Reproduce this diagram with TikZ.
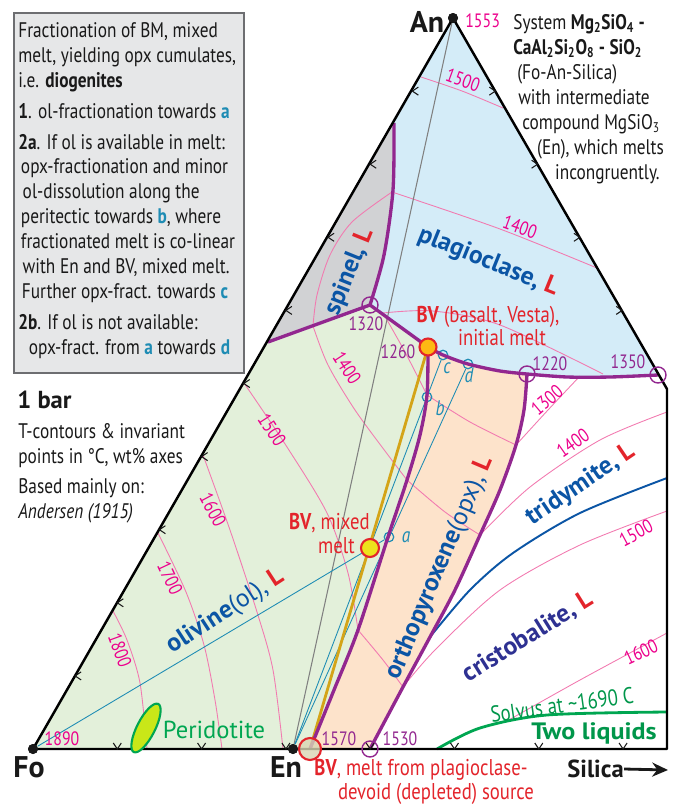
\documentclass[tikz,border=0pt]{standalone}
\usepackage{fontspec}
\setmainfont{PT Sans}[FakeStretch=0.82]
\newfontfamily\widesans{PT Sans}
\newfontfamily\extsans{PT Sans}[FakeStretch=1.1]
\usetikzlibrary{arrows.meta,shapes.geometric}
\definecolor{cpurple}{HTML}{92278F}
\definecolor{cpink}{HTML}{F27AB0}
\definecolor{cmag}{HTML}{EC008C}
\definecolor{cteal}{HTML}{1E8CB4}
\definecolor{cblue}{HTML}{0B55A5}
\definecolor{cnavy}{HTML}{2E3192}
\definecolor{cred}{HTML}{E3242B}
\definecolor{cgreen}{HTML}{00A651}
\definecolor{cdgreen}{HTML}{00964A}
\definecolor{cgold}{HTML}{D4A418}
\definecolor{olfill}{HTML}{E3F0DA}
\definecolor{opxfill}{HTML}{FDE3CB}
\definecolor{plfill}{HTML}{D4ECF8}
\definecolor{spfill}{HTML}{D1D2D4}
\definecolor{cbox}{HTML}{E6E7E8}
\definecolor{cboxline}{HTML}{6D6E71}
\definecolor{bvorange}{HTML}{FDB913}
\definecolor{bvyellow}{HTML}{EDE31C}
\definecolor{bvbase}{HTML}{D9D6B3}
\newcommand\Lr{\textcolor{cred}{L}}
\tikzset{
  triedge/.style={line width=1.4pt, line join=round},
  bound/.style={cpurple, line width=1.9pt, line join=round},
  iso/.style={cpink, line width=0.5pt},
  tieline/.style={cteal, line width=0.5pt},
  isolab/.style={cmag, font=\fontsize{11}{12}\selectfont, inner sep=0pt},
  invlab/.style={cpurple, font=\fontsize{11}{12}\selectfont, inner sep=0pt},
  invpt/.style={circle, draw=cpurple, line width=0.8pt, minimum size=0.32cm, inner sep=0pt},
  melt/.style={circle, draw=cteal, line width=0.7pt, minimum size=0.19cm, inner sep=0pt},
  meltlab/.style={cteal, font=\fontsize{12}{12}\selectfont\itshape, inner sep=0pt},
  fieldlab/.style={cblue, font=\widesans\fontsize{14.5}{15}\selectfont\bfseries, inner sep=0pt},
  bvlab/.style={cred, font=\fontsize{13}{14}\selectfont, inner sep=0pt},
  vdot/.style={circle, fill=black!90, minimum size=0.2cm, inner sep=0pt},
  vertex/.style={text=black!90, font=\widesans\fontsize{17}{18}\selectfont\bfseries, inner sep=0pt},
  tickmark/.style={black!90, line width=0.6pt},
  plain/.style={text=black!90, font=\fontsize{12}{14.2}\selectfont, inner sep=0pt, align=left},
}
\begin{document}
\begin{tikzpicture}[x=0.02cm, y=-0.02cm]
\useasboundingbox (0,0) rectangle (680,812);
% corners and invariant points
\coordinate (Rt) at (667,389);
\coordinate (Rb) at (667,749);
\coordinate (Sp1) at (394,123);
\coordinate (Sp2) at (268,342);
\coordinate (P1320) at (370,305);
\coordinate (BVi) at (428,347);
\coordinate (P1220) at (527,374);
\coordinate (P1350) at (658,375);
\coordinate (P1570) at (310,749);
\coordinate (P1530) at (370,749);
\coordinate (BVm) at (370,548);
\coordinate (silend) at (668,770);

% fields
\fill[olfill] (33,749) -- (Sp2) -- (P1320) -- (BVi)
  -- plot[smooth] coordinates {(428,347) (427,395) (420,435) (407,480) (388,537) (358,630) (334,690) (310,749)} -- cycle;
\fill[spfill] (Sp2) -- (Sp1)
  -- plot[smooth] coordinates {(394,123) (393,190) (384,255) (370,305)} -- cycle;
\fill[plfill] (453,18) -- (Sp1)
  -- plot[smooth] coordinates {(394,123) (393,190) (384,255) (370,305)} -- (BVi)
  -- plot[smooth] coordinates {(428,347) (443,355) (468,364) (500,371) (527,374)}
  -- plot[smooth] coordinates {(527,374) (567,377) (610,377) (658,375)} -- cycle;
\fill[opxfill] plot[smooth] coordinates {(428,347) (443,355) (468,364) (500,371) (527,374)}
  -- plot[smooth] coordinates {(527,374) (524,410) (516,445) (500,490) (480,535) (455,590) (430,637) (403,687) (370,749)}
  -- (P1570)
  -- plot[smooth] coordinates {(310,749) (334,690) (358,630) (388,537) (407,480) (420,435) (427,395) (428,347)} -- cycle;

% isotherms
\draw[iso] plot[smooth] coordinates {(113,611) (127,640) (140,683) (147,749)};
\draw[iso] plot[smooth] coordinates {(158,533) (186,592) (204,645) (215,700) (222,749)};
\draw[iso] plot[smooth] coordinates {(203,455) (230,530) (257,612) (273,670) (283,749)};
\draw[iso] plot[smooth] coordinates {(244,383) (287,447) (327,513) (348,573) (358,630)};
\draw[iso] plot[smooth] coordinates {(358,630) (383,660) (403,687)};
\draw[iso] plot[smooth] coordinates {(403,687) (435,650) (500,590) (580,545) (667,511)};
\draw[iso] plot[smooth] coordinates {(507,721) (580,680) (667,633)};
\draw[iso] plot[smooth] coordinates {(392,192) (352,222) (330,255) (317,295) (313,326)};
\draw[iso] plot[smooth] coordinates {(313,326) (328,365) (355,410) (388,455) (407,480)};
\draw[iso] plot[smooth] coordinates {(407,480) (445,512) (480,535)};
\draw[iso] plot[smooth] coordinates {(480,535) (530,487) (600,440) (667,412)};
\draw[iso] plot[smooth] coordinates {(383,313) (405,352) (427,395)};
\draw[iso] plot[smooth] coordinates {(427,395) (470,422) (516,445)};
\draw[iso] plot[smooth] coordinates {(516,445) (548,410) (580,376)};
\draw[iso] plot[smooth] coordinates {(383,313) (433,311) (500,325) (603,374)};
\draw[iso] plot[smooth] coordinates {(392,192) (500,229) (597,268)};
\draw[iso] plot[smooth] coordinates {(421,77) (462,91) (503,108)};

% silica polymorph boundary and solvus
\draw[cblue, line width=1.1pt] plot[smooth] coordinates {(430,637) (470,590) (513,553) (580,513) (667,478)};
\draw[cgreen, line width=1.6pt] plot[smooth] coordinates {(437,749) (480,728) (547,715) (667,712)};

% vertices and melts
\node[vdot] (Fo) at (33,749) {};
\node[vdot] (En) at (293,749) {};
\node[vdot] (An) at (453,18) {};
\node[melt] (pa) at (389,537) {};
\node[melt] (pb) at (427,397) {};
\node[melt] (pc) at (443,355) {};
\node[melt] (pd) at (468,364) {};

% joins and tie lines
\draw[gray, line width=0.6pt] (An) -- (En);
\draw[tieline] (Fo) -- (pa);
\draw[tieline] (En) -- (pc);
\draw[tieline] (En) -- (pd);
\draw[cgold, line width=1.6pt] (P1570) -- (BVi);

% phase boundaries
\draw[bound] (Sp2) -- (P1320) -- (BVi);
\draw[bound] plot[smooth] coordinates {(394,123) (393,190) (384,255) (370,305)};
\draw[bound] plot[smooth] coordinates {(428,347) (427,395) (420,435) (407,480) (388,537) (358,630) (334,690) (310,749)};
\draw[bound] plot[smooth] coordinates {(428,347) (443,355) (468,364) (500,371) (527,374)};
\draw[bound] plot[smooth] coordinates {(527,374) (567,377) (610,377) (658,375)};
\draw[bound] plot[smooth] coordinates {(527,374) (524,410) (516,445) (500,490) (480,535) (455,590) (430,637) (403,687) (370,749)};

% triangle
\draw[triedge] (Fo.center) -- (An.center) -- (Rt) -- (Rb) -- cycle;
\foreach \k in {1,...,7}
  \draw[tickmark] ({33+84.3*\k-4},743) -- ({33+84.3*\k},749) -- ({33+84.3*\k+4},743);
\foreach \k in {1,...,9}
  \draw[tickmark] ({33+42.15*\k+6},{749-73.1*\k-4}) -- ({33+42.15*\k},{749-73.1*\k}) -- ({33+42.15*\k+6},{749-73.1*\k+4});
\foreach \k in {1,...,4}
  \draw[tickmark] ({453+42.3*\k-6},{18+73.1*\k-4}) -- ({453+42.3*\k},{18+73.1*\k}) -- ({453+42.3*\k-6},{18+73.1*\k+4});
\node[vdot] (FoDot) at (Fo) {};
\node[vdot] (EnDot) at (En) {};
\node[vdot] (AnDot) at (An) {};

% invariant points
\node[invpt] (c1320) at (P1320) {};
\node[invpt] (c1220) at (P1220) {};
\node[invpt] (c1350) at (P1350) {};
\node[invpt] (c1530) at (P1530) {};
\node[circle, draw=cred, fill=bvorange, line width=1.2pt, minimum size=0.34cm, inner sep=0pt] (bvinit) at (BVi) {};
\node[circle, draw=cred, fill=bvyellow, line width=1.2pt, minimum size=0.36cm, inner sep=0pt] (bvmix) at (BVm) {};
\node[circle, draw=cred, fill=bvbase, fill opacity=0.8, line width=1.2pt, minimum size=0.44cm, inner sep=0pt] (bvbase) at (P1570) {};
\node[ellipse, draw=cgreen, fill=bvyellow!85!green, line width=1.2pt, minimum width=1.08cm, minimum height=0.36cm, inner sep=0pt, rotate=63] (peridot) at (146,728) {};

% isotherm and invariant labels
\node[isolab, anchor=west] (t1553) at (465,21) {1553};
\node[isolab, rotate=-20] (t1500p) at (463,80) {1500};
\node[isolab, rotate=-20] (t1400p) at (520,227) {1400};
\node[isolab] (t1890) at (62,739) {1890};
\node[isolab, rotate=-70] (t1800) at (120,650) {1800};
\node[isolab, rotate=-65] (t1700) at (170,578) {1700};
\node[isolab, rotate=-62] (t1600) at (213,510) {1600};
\node[isolab, rotate=-57] (t1500o) at (272,430) {1500};
\node[isolab, rotate=-57] (t1400o) at (347,368) {1400};
\node[isolab, rotate=40] (t1300s) at (547,400) {1300};
\node[isolab, rotate=35] (t1400s) at (573,443) {1400};
\node[isolab, rotate=28] (t1500s) at (636,533) {1500};
\node[isolab, rotate=25] (t1600s) at (641,652) {1600};
\node[invlab] (l1320) at (366,324) {1320};
\node[invlab] (l1260) at (398,352) {1260};
\node[invlab] (l1220) at (550,364) {1220};
\node[invlab] (l1350) at (628,362) {1350};
\node[invlab] (l1570) at (339,739) {1570};
\node[invlab] (l1530) at (400,739) {1530};
\node[meltlab] (la) at (406,537) {a};
\node[meltlab] (lb) at (440,408) {b};
\node[meltlab] (lc) at (447,368) {c};
\node[meltlab] (ld) at (469,375) {d};

% field labels
\node[fieldlab, rotate=68] (spinel) at (350,272) {spinel, \Lr};
\node[fieldlab, rotate=-22] (plag) at (488,262) {plagioclase, \Lr};
\node[fieldlab, rotate=33] (olivine) at (226,612) {olivine\mdseries(ol), \bfseries\Lr};
\node[fieldlab, rotate=67] (opx) at (440,568) {orthopyroxene\mdseries(opx), \bfseries\Lr};
\node[fieldlab, rotate=34] (trid) at (581,485) {tridymite, \Lr};
\node[fieldlab, text=cnavy, rotate=32] (crist) at (528,637) {cristobalite, \Lr};
\node[fieldlab, text=cdgreen, font=\extsans\fontsize{13.5}{14}\selectfont\bfseries] (twoliq) at (594,733) {Two liquids};
\node[cdgreen, font=\fontsize{13}{14}\selectfont, inner sep=0pt, rotate=8] (solvus) at (562,705) {Solvus at \textasciitilde1690 C};
\node[cgreen, font=\widesans\fontsize{14}{15}\selectfont, inner sep=0pt] (peridlab) at (214,730) {Peridotite};

% BV melts
\node[bvlab] (bvi1) at (488,317) {\textbf{BV} (basalt, Vesta),};
\node[bvlab] (bvi2) at (502,338) {initial melt};
\node[bvlab, anchor=east] (bvm1) at (370,523) {\textbf{BV}, mixed};
\node[bvlab, anchor=east] (bvm2) at (355,546) {melt};
\node[bvlab] (bvb1) at (421,770) {\textbf{BV}, melt from plagioclase-};
\node[bvlab] (bvb2) at (436,794) {devoid (depleted) source};

% corners
\node[vertex] (anlab) at (427,22) {An};
\node[vertex] (folab) at (29,767) {Fo};
\node[vertex] (enlab) at (286,767) {En};
\node[vertex, font=\widesans\fontsize{14}{16}\selectfont\bfseries, anchor=west] (silica) at (567,769) {Silica};
\draw[black!90, line width=1.6pt, -{Stealth[length=9pt, width=8pt]}] (silica.east) -- (silend);

% notes
\node[draw=cboxline, fill=cbox, line width=1pt, minimum width=4.6cm, minimum height=7.2cm, anchor=north west, inner sep=0pt] (note) at (13,12) {};
\node[plain, anchor=north west] (notetext) at (18,22) {Fractionation of BM, mixed\\
melt, yielding opx cumulates,\\
i.e. \textbf{diogenites}\\[3.4pt]
\textbf{1}. ol-fractionation towards \textbf{\textcolor{cteal}{a}}\\[3.4pt]
\textbf{2a}. If ol is available in melt:\\
\hspace*{1.5pt}opx-fractionation and minor\\
\hspace*{2.5pt}ol-dissolution along the\\
\hspace*{1.5pt}peritectic towards \textbf{\textcolor{cteal}{b}}, where\\
\hspace*{1.5pt}fractionated melt is co-linear\\
\hspace*{2.5pt}with En and BV, mixed melt.\\
\hspace*{2pt}Further opx-fract. towards \textbf{\textcolor{cteal}{c}}\\[3.4pt]
\textbf{2b}. If ol is not available:\\
\hspace*{6pt}opx-fract. from \textbf{\textcolor{cteal}{a}} towards \textbf{\textcolor{cteal}{d}}};
\node[plain, anchor=north west] (system) at (513,14) {System \textbf{Mg\textsubscript{2}SiO\textsubscript{4} -}\\
\textbf{CaAl\textsubscript{2}Si\textsubscript{2}O\textsubscript{8} - SiO\textsubscript{2}}\\
\hspace*{2.3pt}(Fo-An-Silica)\\
\hspace*{2.8pt}with intermediate\\
\hspace*{5.1pt}compound MgSiO\textsubscript{3}\\
\hspace*{13.6pt}(En), which melts\\
\hspace*{23.8pt}incongruently.};
\node[plain, font=\widesans\fontsize{14}{16}\selectfont\bfseries, anchor=base west] (bar) at (17,408) {1 bar};
\node[plain, anchor=north west] (tcont) at (18,423) {T-contours \& invariant\\points in °C, wt\% axes};
\node[plain, anchor=north west] (based) at (18,478) {Based mainly on:\\\textit{Andersen (1915)}};
\end{tikzpicture}
\end{document}
